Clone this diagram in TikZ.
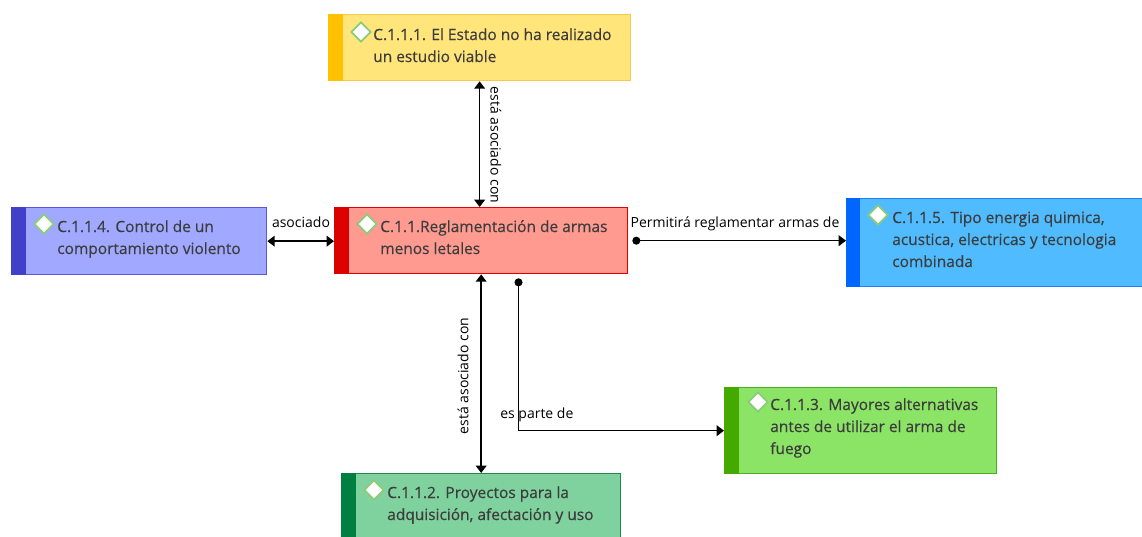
\documentclass[tikz,border=0pt]{standalone}
\usepackage{fontspec}
\setmainfont{Open Sans}
\newfontfamily\boxfont[FakeBold=0.35]{Open Sans}
\usetikzlibrary{arrows.meta,shapes.geometric}
\definecolor{txtc}{HTML}{3C3C3C}
\definecolor{fA}{HTML}{FFE57A}\definecolor{sA}{HTML}{FFC000}\definecolor{bA}{HTML}{F7C84A}
\definecolor{fL}{HTML}{A0A8FF}\definecolor{sL}{HTML}{4040C8}\definecolor{bL}{HTML}{5858D8}
\definecolor{fC}{HTML}{FF9A90}\definecolor{sC}{HTML}{DD0000}\definecolor{bC}{HTML}{E00000}
\definecolor{fR}{HTML}{50BBFF}\definecolor{sR}{HTML}{0066FF}\definecolor{bR}{HTML}{1E80FF}
\definecolor{fG}{HTML}{8CE466}\definecolor{sG}{HTML}{44AA00}\definecolor{bG}{HTML}{4CAF20}
\definecolor{fD}{HTML}{7FD19D}\definecolor{sD}{HTML}{008040}\definecolor{bD}{HTML}{1E8A50}
\definecolor{dia}{HTML}{8CCB7A}
\begin{document}
\begin{tikzpicture}[x=0.75pt,y=-0.75pt,
  cbox/.style={draw, anchor=north west, inner sep=0pt, line width=1pt},
  txt/.style={anchor=base west, align=left, inner sep=0pt, text=txtc,
    font=\boxfont\fontsize{11.6}{16.5}\selectfont},
  icon/.style={diamond, draw=dia, fill=white, line width=1.4pt, inner sep=0pt,
    minimum width=15pt, minimum height=15pt},
  lbl/.style={inner sep=0pt, font=\fontsize{10.5}{12}\selectfont, text=black},
  con/.style={line width=1.1pt, black},
  Tri/.tip={Triangle[width=8pt,length=5.5pt]},
  Dot/.tip={Circle[length=6pt]}]
\useasboundingbox (0,0) rectangle (1142,536);
% boxes (text nodes are placed at the baseline of their last line)
\node[cbox, draw=bA, fill=fA, minimum width=226.5pt, minimum height=49.5pt] (n1) at (328,14) {};
\fill[sA] (n1.north west) rectangle ([xshift=11.25pt]n1.south west);
\node[icon] (i1) at (361,32) {};
\node[txt] (t1) at (373,62) {C.1.1.1. El Estado no ha realizado\\un estudio viable};

\node[cbox, draw=bL, fill=fL, minimum width=191.25pt, minimum height=50.25pt] (n4) at (11,207) {};
\fill[sL] (n4.north west) rectangle ([xshift=11.25pt]n4.south west);
\node[icon] (i4) at (44,224) {};
\node[txt] (t4) at (57,254) {C.1.1.4. Control de un\\comportamiento violento};

\node[cbox, draw=bC, fill=fC, minimum width=219.75pt, minimum height=49.5pt] (nC) at (334,207) {};
\fill[sC] (nC.north west) rectangle ([xshift=11.25pt]nC.south west);
\node[icon] (iC) at (367,224) {};
\node[txt] (tC) at (380,254) {C.1.1.Reglamentación de armas\\menos letales};

\node[cbox, draw=bR, fill=fR, minimum width=222.75pt, minimum height=66pt] (n5) at (846,198) {};
\fill[sR] (n5.north west) rectangle ([xshift=10.5pt]n5.south west);
\node[icon] (i5) at (878,215) {};
\node[txt] (t5) at (892,267) {C.1.1.5. Tipo energia quimica,\\acustica, electricas y tecnologia\\combinada};

\node[cbox, draw=bG, fill=fG, minimum width=204pt, minimum height=64.5pt] (n3) at (724,387) {};
\fill[sG] (n3.north west) rectangle ([xshift=11.25pt]n3.south west);
\node[icon] (i3) at (758,402) {};
\node[txt] (t3) at (770,454) {C.1.1.3. Mayores alternativas\\antes de utilizar el arma de\\fuego};

\node[cbox, draw=bD, fill=fD, minimum width=209.25pt, minimum height=51pt] (n2) at (341,473) {};
\fill[sD] (n2.north west) rectangle ([xshift=11.25pt]n2.south west);
\node[icon] (i2) at (374,490) {};
\node[txt] (t2) at (387,520) {C.1.1.2. Proyectos para la\\adquisición, afectación y uso};

% connectors
\draw[con, Tri-Tri] (n1.south) -- (n1.south |- nC.north);
\node[lbl, rotate=-90] (l1) at (496,145) {está asociado con};

\draw[con, Tri-Tri] (n4.east) -- (n4.east -| nC.west);
\node[lbl] (l4) at (301,222) {asociado};

\draw[con, Dot-Tri] ([xshift=3pt]nC.east) -- (nC.east -| n5.west);
\node[lbl] (l5) at (735,224) {Permitirá reglamentar armas de};

\draw[con, Tri-Tri] (nC.south) -- (nC.south |- n2.north);
\node[lbl, rotate=90] (l2) at (463,376) {está asociado con};

\draw[con, Dot-Tri] ([xshift=28pt,yshift=-3pt]nC.south) |- (n3.west);
\node[lbl, anchor=base west] (l3) at (500,418) {es parte de};
\end{tikzpicture}
\end{document}
